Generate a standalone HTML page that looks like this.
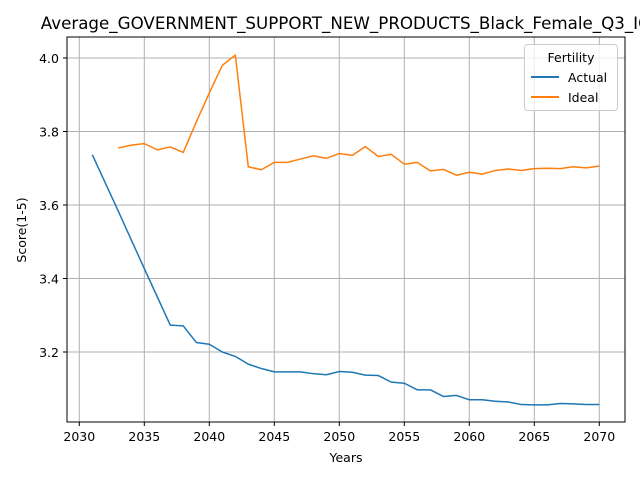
<!DOCTYPE html>
<html><head><meta charset="utf-8"><style>
body{margin:0;background:#fff;font-family:"DejaVu Sans",sans-serif;}
svg text{font-family:"DejaVu Sans",sans-serif;}
</style></head><body>
<svg id="chart" width="640" height="480" viewBox="0 0 640 480">
<rect width="640" height="480" fill="#fff"/>
<g id="grid"></g>
<g id="lines"></g>
<rect x="67" y="37" width="558" height="385" fill="none" stroke="#000" stroke-width="1"/>
<g id="ticks"></g>
<text x="346" y="29" text-anchor="middle" font-size="16.7">Average_GOVERNMENT_SUPPORT_NEW_PRODUCTS_Black_Female_Q3_IQ</text>
<text x="346" y="462" text-anchor="middle" font-size="12.5">Years</text>
<text x="26" y="230" text-anchor="middle" font-size="12.5" transform="rotate(-90 26 230)">Score(1-5)</text>
<g>
<rect x="524.5" y="44.5" width="93" height="66" rx="3" fill="#fff" fill-opacity="0.8" stroke="#ccc"/>
<text x="571" y="62" text-anchor="middle" font-size="12.5">Fertility</text>
<line x1="531" y1="77" x2="559" y2="77" stroke="#1f77b4" stroke-width="2"/>
<text x="568" y="82" font-size="12.5">Actual</text>
<line x1="531" y1="97" x2="559" y2="97" stroke="#ff7f0e" stroke-width="2"/>
<text x="568" y="102" font-size="12.5">Ideal</text>
</g>
</svg>
<script>
const actualYears=[2031,2032,2033,2034,2035,2036,2037,2038,2039,2040,2041,2042,2043,2044,2045,2046,2047,2048,2049,2050,2051,2052,2053,2054,2055,2056,2057,2058,2059,2060,2061,2062,2063,2064,2065,2066,2067,2068,2069,2070];
const actualValues=[3.737,3.66,3.583,3.505,3.427,3.35,3.273,3.271,3.226,3.221,3.2,3.188,3.167,3.155,3.146,3.146,3.146,3.141,3.138,3.147,3.145,3.137,3.136,3.118,3.115,3.097,3.097,3.079,3.082,3.07,3.07,3.066,3.064,3.057,3.056,3.056,3.06,3.059,3.057,3.057];
const idealYears=[2033,2034,2035,2036,2037,2038,2039,2040,2041,2042,2043,2044,2045,2046,2047,2048,2049,2050,2051,2052,2053,2054,2055,2056,2057,2058,2059,2060,2061,2062,2063,2064,2065,2066,2067,2068,2069,2070];
const idealValues=[3.755,3.763,3.767,3.75,3.758,3.743,3.826,3.905,3.98,4.008,3.704,3.696,3.716,3.716,3.725,3.734,3.727,3.74,3.735,3.759,3.732,3.738,3.711,3.716,3.693,3.697,3.681,3.689,3.684,3.694,3.698,3.694,3.699,3.7,3.699,3.704,3.701,3.706];
const xTicks=[2030,2035,2040,2045,2050,2055,2060,2065,2070];
const yTicks=[3.2,3.4,3.6,3.8,4.0];
const xs=y=>79.3+(y-2030)*13;
const ys=v=>352-(v-3.2)*367.5;
const NS="http://www.w3.org/2000/svg";
const grid=document.getElementById('grid'),ticks=document.getElementById('ticks'),lines=document.getElementById('lines');
function mk(tag,at,parent){const e=document.createElementNS(NS,tag);for(const k in at)e.setAttribute(k,at[k]);parent.appendChild(e);return e;}
xTicks.forEach(t=>{const x=xs(t);
const g=mk('line',{x1:x,x2:x,y1:37,y2:422,stroke:'#b0b0b0','stroke-width':1},grid);


mk('line',{x1:x,x2:x,y1:422,y2:426,stroke:'#000'},ticks);
const tx=mk('text',{x:x,y:441,'text-anchor':'middle','font-size':12.5},ticks);tx.textContent=t;

});
yTicks.forEach(t=>{const y=ys(t);
const g=mk('line',{x1:67,x2:625,y1:y,y2:y,stroke:'#b0b0b0','stroke-width':1},grid);


mk('line',{x1:63,x2:67,y1:y,y2:y,stroke:'#000'},ticks);
const tx=mk('text',{x:59,y:y+5,'text-anchor':'end','font-size':12.5},ticks);tx.textContent=t.toFixed(1);

});
function series(yrs,vals,color,name){
const p=mk('polyline',{points:yrs.map((y,i)=>xs(y)+','+ys(vals[i])).join(' '),fill:'none',stroke:color,'stroke-width':1.5,'stroke-linejoin':'round'},lines);

}
series(actualYears,actualValues,'#1f77b4','actual-line');
series(idealYears,idealValues,'#ff7f0e','ideal-line');
</script>
</body></html>
